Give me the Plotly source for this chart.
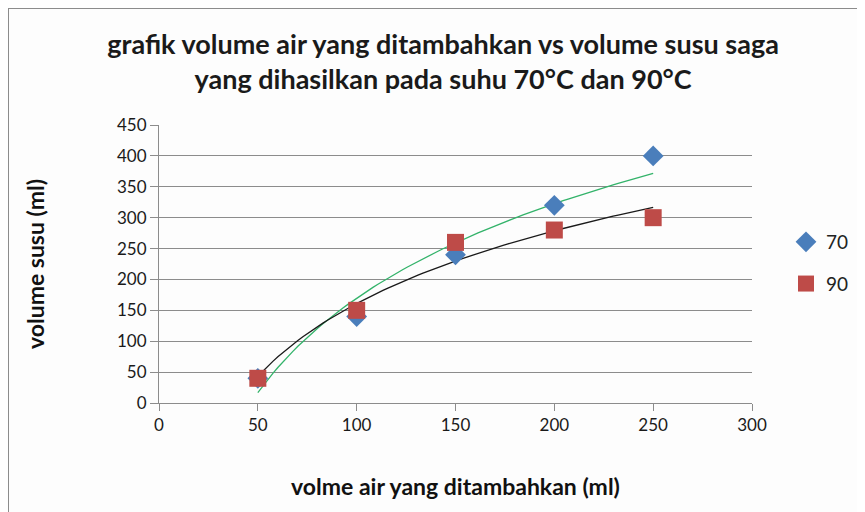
import numpy as np
import plotly.graph_objects as go

x_air = [50, 100, 150, 200, 250]
y_70 = [40, 140, 240, 320, 400]
y_90 = [40, 150, 260, 280, 300]
x_ticks = [0, 50, 100, 150, 200, 250, 300]
y_ticks = [0, 50, 100, 150, 200, 250, 300, 350, 400, 450]

FONT = "Lato"

def log_fit(xs, ys):
    a, b = np.polyfit(np.log(xs), ys, 1)
    xx = np.linspace(min(xs), max(xs), 80)
    return xx, a * np.log(xx) + b

fig = go.Figure()

gx, gy = log_fit(x_air, y_70)
bx, by = log_fit(x_air, y_90)

fig.add_trace(go.Scatter(x=gx, y=gy, mode="lines", line=dict(color="#33b36a", width=1.3),
                         showlegend=False, hoverinfo="skip"))
fig.add_trace(go.Scatter(x=bx, y=by, mode="lines", line=dict(color="#1a1a1a", width=1.3),
                         showlegend=False, hoverinfo="skip"))

fig.add_trace(go.Scatter(x=x_air, y=y_70, mode="markers", name="70", legendgroup="a",
                         marker=dict(symbol="diamond", size=16, color="#4a7ebb")))
fig.add_trace(go.Scatter(x=x_air, y=y_90, mode="markers", name="90", legendgroup="b",
                         marker=dict(symbol="square", size=17, color="#be4b48")))

# page is offset by 8px body margin
OFF = 8
W, H = 865, 512
L = 159 - OFF
T = 125 - OFF
R = W + OFF - 752
B = H + OFF - 403
pw, ph = W - L - R, H - T - B

def px_x(p):
    return (p - OFF - L) / pw

def px_y(p):
    return (H - B - (p - OFF)) / ph

fig.update_layout(
    width=W, height=H,
    margin=dict(l=L, r=R, t=T, b=B, autoexpand=False),
    paper_bgcolor="#fdfdfd", plot_bgcolor="#fdfdfd",
    font=dict(family=FONT, color="#222"),
    title=dict(text="<b>grafik volume air yang ditambahkan vs volume susu saga<br>yang dihasilkan pada suhu 70\u00b0C dan 90\u00b0C</b>",
               x=0.503, xanchor="center", y=1 - 46 / H, yanchor="top",
               font=dict(family=FONT, size=27, color="#1a1a1a")),
    xaxis=dict(range=[0, 300], tickvals=x_ticks, showgrid=False, zeroline=False,
               showline=True, linecolor="#8c8c8c", linewidth=1,
               ticks="outside", ticklen=7, tickcolor="#8c8c8c",
               tickfont=dict(size=17, color="#1a1a1a"),
               title=dict(text="<b>volme air yang ditambahkan (ml)</b>", font=dict(size=23, color="#111"), standoff=44)),
    yaxis=dict(range=[0, 450], tickvals=y_ticks, showgrid=True, gridcolor="#8c8c8c", gridwidth=1,
               zeroline=False, showline=True, linecolor="#8c8c8c", linewidth=1,
               ticks="outside", ticklen=8, tickcolor="#8c8c8c",
               tickfont=dict(size=17, color="#1a1a1a"),
               title=dict(text="<b>volume susu (ml)</b>", font=dict(size=23, color="#111"), standoff=65)),
    legend=dict(x=px_x(786), xanchor="left", y=px_y(263), yanchor="middle",
                font=dict(size=19, color="#222"), tracegroupgap=14, bgcolor="rgba(0,0,0,0)",
                itemwidth=30),
    shapes=[
        dict(type="line", xref="paper", yref="paper", x0=px_x(8), x1=px_x(880), y0=px_y(8), y1=px_y(8),
             line=dict(color="#8c8c8c", width=2)),
        dict(type="line", xref="paper", yref="paper", x0=px_x(8), x1=px_x(8), y0=px_y(8), y1=px_y(530),
             line=dict(color="#8c8c8c", width=2)),
    ],
)

fig.write_html("out.html")
